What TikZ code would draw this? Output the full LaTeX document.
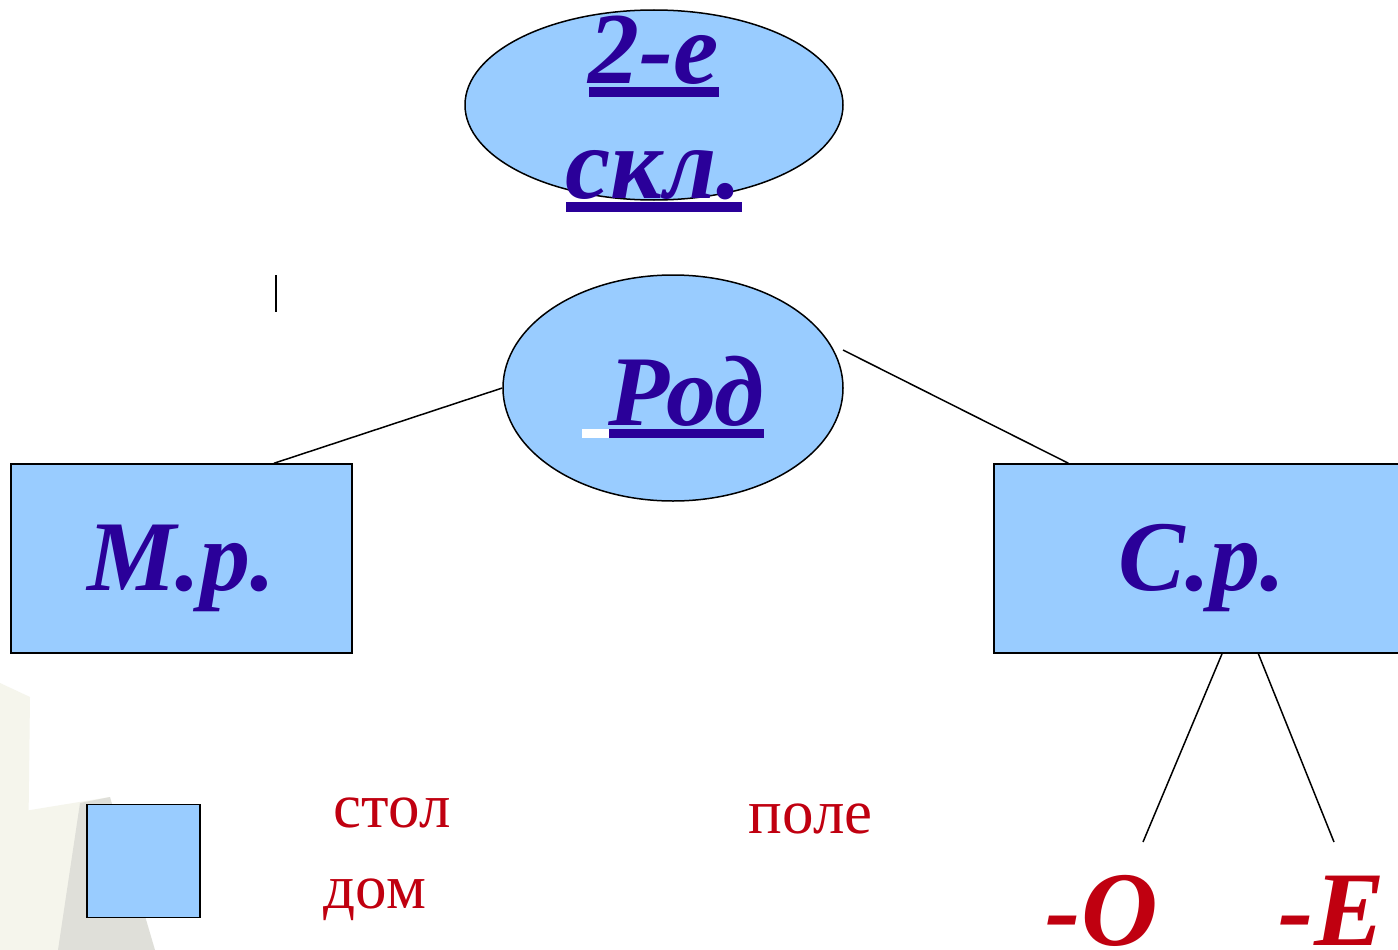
\documentclass[tikz,border=0pt]{standalone}
\usepackage{fontspec}
\setmainfont{Liberation Serif}
\usetikzlibrary{shapes.geometric,calc}

\definecolor{skyfill}{HTML}{99CCFF}
\definecolor{inkblue}{HTML}{2A0099}
\definecolor{inkred}{HTML}{C00010}
\definecolor{bgbeige}{HTML}{F5F5EC}
\definecolor{bggray}{HTML}{DFDFD9}

% thick underline under a word
\newcommand{\ulbar}[1]{\setbox0\hbox{#1}\leavevmode\rlap{\copy0}\rule[-13pt]{\wd0}{9.5pt}}

\begin{document}
\begin{tikzpicture}[x=1pt, y=-1pt, line width=1.5pt,
  oval/.style={ellipse, draw, fill=skyfill, inner sep=0pt},
  box/.style={rectangle, draw, fill=skyfill, inner sep=0pt},
  bigword/.style={text=inkblue, font=\fontsize{100}{115}\selectfont\bfseries\itshape},
  redword/.style={text=inkred, font=\fontsize{63}{70}\selectfont, anchor=base west, inner sep=0pt},
  endword/.style={text=inkred, font=\fontsize{106}{115}\selectfont\bfseries\itshape, anchor=base west, inner sep=0pt}]

\useasboundingbox (0,0) rectangle (1398,950);
\clip (0,0) rectangle (1398,950);
\fill[white] (0,0) rectangle (1398,950);

% faint background
\fill[bgbeige] (0,683) -- (30,697) -- (27,950) -- (0,950) -- cycle;
\fill[bgbeige] (0,815) -- (110,797) -- (60,950) -- (0,950) -- cycle;
\fill[bggray] (80,803) -- (110,797) -- (155,950) -- (58,950) -- cycle;

% top oval
\node[oval, minimum width=378, minimum height=190] (skl) at (654,105) {};
\node[bigword, align=center, inner sep=0pt, font=\fontsize{102}{115}\selectfont\bfseries\itshape] (skltxt) at (654,114) {\ulbar{2-е}\\\ulbar{скл.}};

\draw (276,275) -- (276,312);

% gender
\node[oval, minimum width=340, minimum height=226, bigword, text height=87pt, text depth=13pt] (rod) at (673,388)
  {{\color{white}\rule[-13pt]{27pt}{9.5pt}}\ulbar{Род}};

\node[box, minimum width=341, minimum height=189, bigword, text height=84pt, text depth=21pt] (mr) at (181.5,558.5) {М.р.};
\node[box, minimum width=416, minimum height=189, bigword, text height=84pt, text depth=21pt] (cp) at (1202,558.5) {С.р.};

\coordinate (rodne) at (843,350);
\draw (rod.west) -- ($(mr.north west)!0.77!(mr.north east)$);
\draw (rodne) -- ($(cp.north west)!0.18!(cp.north east)$);

% endings
\node[endword] (endo) at (1045,945) {-О};
\node[endword] (ende) at (1278,945) {-Е};
\coordinate (oend) at (1143,842);
\coordinate (eend) at (1334,842);
\draw ($(cp.south west)!0.548!(cp.south east)$) -- (oend);
\draw ($(cp.south west)!0.635!(cp.south east)$) -- (eend);

% examples
\node[box, minimum size=113] (sq) at (143.5,861) {};
\node[redword] (stol) at (333,827) {стол};
\node[redword] (dom) at (323,908) {дом};
\node[redword] (pole) at (748,833) {поле};

\end{tikzpicture}
\end{document}
